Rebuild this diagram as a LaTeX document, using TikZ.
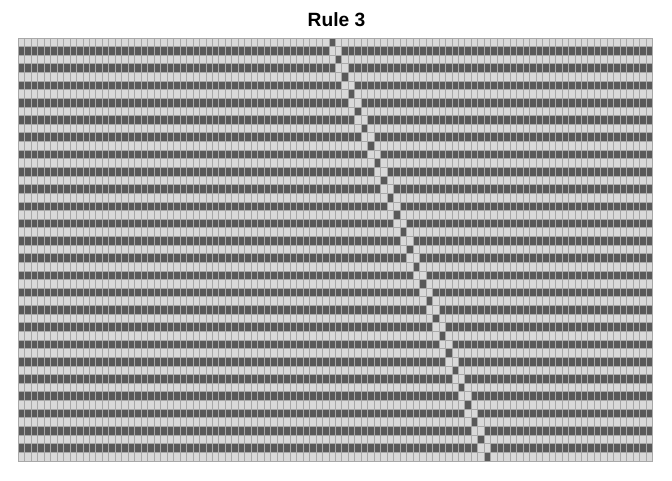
\documentclass[tikz,border=0pt]{standalone}
\usepackage{fontspec}
\setmainfont{Liberation Sans}
\definecolor{lightc}{HTML}{D9D9D9}
\definecolor{darkc}{HTML}{595959}
\definecolor{gridc}{HTML}{A8A8A8}
\begin{document}
\begin{tikzpicture}[x=0.75pt,y=-0.75pt]
\useasboundingbox (0,0) rectangle (672,480);
\fill[white] (0,0) rectangle (672,480);
\def\L{18.3}\def\T{38}\def\W{6.4735}\def\H{8.633}
\pgfmathsetmacro\R{\L+98*\W}
\pgfmathsetmacro\B{\T+49*\H}
\foreach \r in {0,...,48} {
  \pgfmathtruncatemacro\odd{mod(\r,2)}
  \pgfmathsetmacro\ya{\T+\r*\H}
  \pgfmathsetmacro\yb{\ya+\H}
  \ifnum\odd=0
    \fill[lightc] (\L,\ya) rectangle (\R,\yb);
    \pgfmathtruncatemacro\k{48+\r/2}
    \fill[darkc] (\L+\k*\W,\ya) rectangle (\L+\k*\W+\W,\yb);
  \else
    \fill[darkc] (\L,\ya) rectangle (\R,\yb);
    \pgfmathtruncatemacro\k{48+(\r-1)/2}
    \fill[lightc] (\L+\k*\W,\ya) rectangle (\L+\k*\W+2*\W,\yb);
  \fi
}
\foreach \i in {0,...,98} \draw[gridc,line width=0.75pt] (\L+\i*\W,\T) -- (\L+\i*\W,\B);
\foreach \j in {0,...,49} \draw[gridc,line width=0.75pt] (\L,\T+\j*\H) -- (\R,\T+\j*\H);
\node[font=\bfseries\fontsize{14.4}{17}\selectfont,anchor=base,inner sep=0pt] (title) at (336.5,26.5) {Rule 3};
\end{tikzpicture}
\end{document}
